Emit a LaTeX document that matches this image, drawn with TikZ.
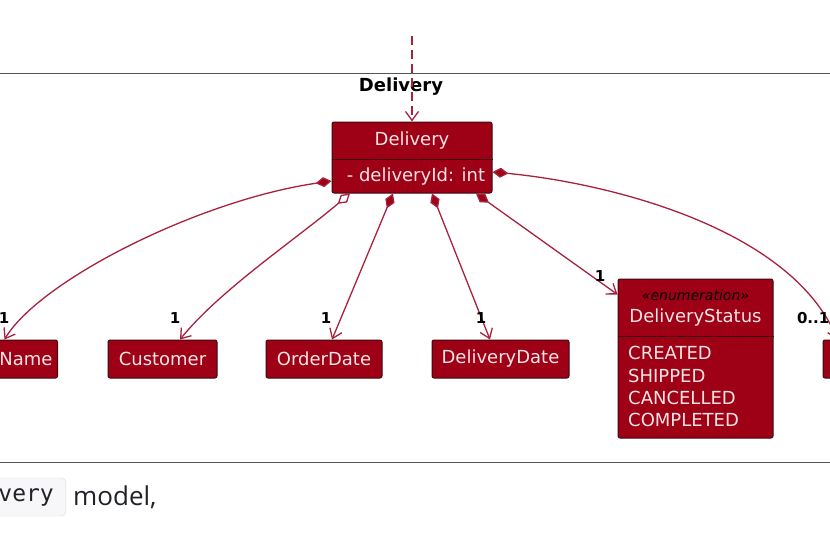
\documentclass[tikz,border=0pt]{standalone}
\usepackage{fontspec}
\usetikzlibrary{arrows.meta}
\newfontfamily\umlfont{DejaVu Sans}
\newfontfamily\codefont{DejaVu Sans Mono}
\newfontfamily\bodyfont{Open Sans}
\definecolor{clsfill}{HTML}{9E0016}
\definecolor{clsline}{HTML}{3A0A0E}
\definecolor{clstext}{HTML}{F4E4E4}
\definecolor{edgecol}{HTML}{A8213E}
\definecolor{framecol}{HTML}{555555}
\definecolor{codebg}{HTML}{F7F7FA}
\definecolor{codeline}{HTML}{D8D8DE}
\definecolor{bodytext}{HTML}{1F2328}
\begin{document}
\begin{tikzpicture}[x=1pt,y=-1pt,line join=round,
  cls/.style={draw=clsline,fill=clsfill,rounded corners=2pt,line width=1pt,text=clstext,
    font=\umlfont\fontsize{18}{22}\selectfont,minimum height=38pt,inner sep=0pt},
  txt/.style={text=clstext,font=\umlfont\fontsize{18}{22}\selectfont,inner sep=0pt},
  mult/.style={font=\umlfont\bfseries\fontsize{15}{18}\selectfont,inner sep=0pt},
  comp/.style={draw=edgecol,line width=1.3pt,
    {Diamond[length=16pt,width=10pt,fill=clsfill]}-{Straight Barb[length=9pt,width=13pt]}},
  aggr/.style={comp,{Diamond[open,fill=white,length=16pt,width=10pt]}-{Straight Barb[length=9pt,width=13pt]}}]
  \useasboundingbox (0,0) rectangle (830,538);
  \clip (0,0) rectangle (830,538);
  % package frame
  \draw[framecol,line width=1pt] (-10,73) rectangle (840,462);
  \node[font=\umlfont\bfseries\fontsize{18}{22}\selectfont,inner sep=0pt] (pkgtitle) at (401,87) {Delivery};
  % classes
  \node[cls,minimum width=160pt,minimum height=71pt] (delivery) at (412,157.5) {};
  \draw[clsline,line width=1pt] ([yshift=-38pt]delivery.north west) -- ([yshift=-38pt]delivery.north east);
  \node[txt] (deltitle) at (412,141) {Delivery};
  \node[txt] (delattr) at (416,177) {- deliveryId: int};
  \node[cls,anchor=east,text width=80pt,align=right,inner xsep=5pt] (name) at (58,359) {Name};
  \node[cls,minimum width=109pt] (customer) at (162.5,359) {Customer};
  \node[cls,minimum width=116pt] (orderdate) at (324,359) {OrderDate};
  \node[cls,minimum width=137pt] (deliverydate) at (500.5,359) {DeliveryDate};
  \node[cls,minimum width=100pt] (other) at (873,359) {};
  \node[cls,minimum width=155pt,minimum height=159pt] (status) at (695.5,358.5) {};
  \draw[clsline,line width=1pt] ([yshift=-58pt]status.north west) -- ([yshift=-58pt]status.north east);
  \node[font=\umlfont\itshape\fontsize{14}{16}\selectfont,inner sep=0pt] (stereo) at (695.5,295) {«enumeration»};
  \node[txt] (stattitle) at (695.5,318) {DeliveryStatus};
  \node[txt,anchor=west] (created) at (628,353) {CREATED};
  \node[txt,anchor=west] (shipped) at (628,376) {SHIPPED};
  \node[txt,anchor=west] (cancelled) at (628,398) {CANCELLED};
  \node[txt,anchor=west] (completed) at (628,420) {COMPLETED};
  % connectors
  \coordinate (src) at (412,36);
  \draw[edgecol,line width=1.3pt,dash pattern=on 9pt off 5pt,-{Straight Barb[length=9pt,width=13pt]}]
    (src) -- (delivery.north);
  \draw[comp] ([yshift=-23.5pt]delivery.west) .. controls (200,200) and (40,280) .. ([xshift=-8pt]name.north);
  \draw[aggr] ([xshift=-62pt]delivery.south) .. controls (295,240) and (220,290) .. ([xshift=17.5pt]customer.north);
  \draw[comp] ([xshift=-19pt]delivery.south) -- ([xshift=8pt]orderdate.north);
  \draw[comp] ([xshift=20pt]delivery.south) -- ([xshift=-10.5pt]deliverydate.north);
  \draw[comp] ([xshift=64pt]delivery.south) -- ([yshift=-16pt]status.north west);
  \draw[comp] ([yshift=-14.5pt]delivery.east) .. controls (600,182) and (790,225) .. ([xshift=15pt]other.north west);
  % multiplicities
  \node[mult] (mname) at (4,318) {1};
  \node[mult] (mcust) at (175,318) {1};
  \node[mult] (morder) at (326,318) {1};
  \node[mult] (mdate) at (481,318) {1};
  \node[mult] (mstatus) at (600,276) {1};
  \node[mult,anchor=east] (mother) at (829.5,318) {0..1};
  % text below
  \node[draw=codeline,fill=codebg,rounded corners=4pt,anchor=east,text width=60pt,align=right,
    minimum height=38pt,inner xsep=12pt,font=\codefont\fontsize{23}{27}\selectfont,text=bodytext] (code) at (66,497) {very};
  \node[anchor=west,font=\bodyfont\fontsize{26}{30}\selectfont,text=bodytext,inner sep=0pt] (model) at (73,497) {model,};
\end{tikzpicture}
\end{document}
